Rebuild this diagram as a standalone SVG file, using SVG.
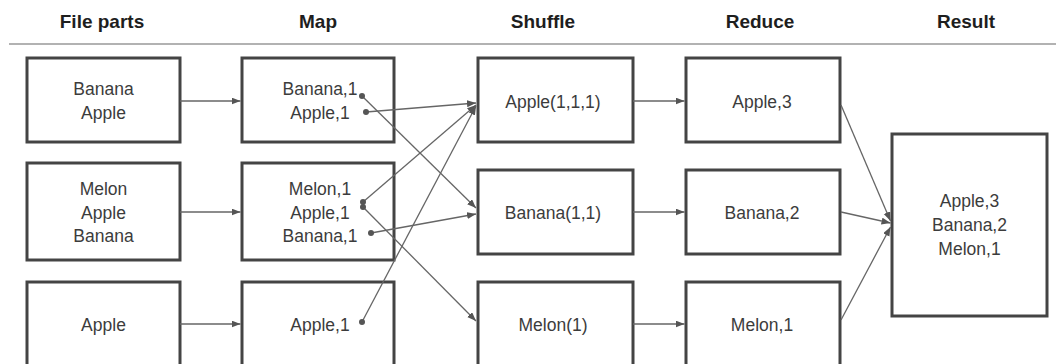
<svg xmlns="http://www.w3.org/2000/svg" width="1056" height="364" viewBox="0 0 1056 364">
  <style>
    .hdr { font-family: "Liberation Sans", Arial, sans-serif; font-weight: bold; font-size: 19px; fill: #1e1e1e; text-anchor: middle; }
    .box { fill: #ffffff; stroke: #444444; stroke-width: 3; }
    .lbl { font-family: "Liberation Sans", Arial, sans-serif; font-size: 17.5px; fill: #3c3c3c; text-anchor: middle; }
    .link { fill: none; stroke: #666666; stroke-width: 1.3; marker-end: url(#arrow); }
    .dot { fill: #555555; }
  </style>
  <defs>
    <marker id="arrow" markerUnits="userSpaceOnUse" markerWidth="10" markerHeight="8" refX="9" refY="3.5" orient="auto">
      <path d="M0,0 L9,3.5 L0,7 z" fill="#555555"/>
    </marker>
  </defs>

  <rect width="1056" height="364" fill="#ffffff"/>

  <!-- column headings -->
  <g id="headers">
    <text class="hdr" x="102" y="28">File parts</text>
    <text class="hdr" x="318" y="28">Map</text>
    <text class="hdr" x="543" y="28">Shuffle</text>
    <text class="hdr" x="760" y="28">Reduce</text>
    <text class="hdr" x="966" y="28">Result</text>
    <line x1="9" y1="44" x2="1056" y2="44" stroke="#999999" stroke-width="1.5"/>
  </g>

  <!-- input file parts -->
  <g id="file1">
    <rect class="box" x="27" y="58" width="153" height="84"/>
    <text class="lbl" x="103.5" y="95">Banana</text>
    <text class="lbl" x="103.5" y="119">Apple</text>
  </g>
  <g id="file2">
    <rect class="box" x="27" y="163" width="153" height="97"/>
    <text class="lbl" x="103.5" y="195">Melon</text>
    <text class="lbl" x="103.5" y="218.5">Apple</text>
    <text class="lbl" x="103.5" y="242">Banana</text>
  </g>
  <g id="file3">
    <rect class="box" x="27" y="282" width="153" height="84"/>
    <text class="lbl" x="103.5" y="331">Apple</text>
  </g>

  <!-- map outputs -->
  <g id="map1">
    <rect class="box" x="242" y="58" width="152" height="84"/>
    <text class="lbl" x="320" y="95">Banana,1</text>
    <text class="lbl" x="320" y="119">Apple,1</text>
  </g>
  <g id="map2">
    <rect class="box" x="242" y="163" width="152" height="97"/>
    <text class="lbl" x="320" y="195">Melon,1</text>
    <text class="lbl" x="320" y="218.5">Apple,1</text>
    <text class="lbl" x="320" y="242">Banana,1</text>
  </g>
  <g id="map3">
    <rect class="box" x="242" y="282" width="152" height="84"/>
    <text class="lbl" x="320" y="331">Apple,1</text>
  </g>

  <!-- shuffled groups -->
  <g id="shuffle1">
    <rect class="box" x="478" y="58" width="155" height="84"/>
    <text class="lbl" x="553" y="108">Apple(1,1,1)</text>
  </g>
  <g id="shuffle2">
    <rect class="box" x="478" y="170" width="155" height="84"/>
    <text class="lbl" x="553" y="219">Banana(1,1)</text>
  </g>
  <g id="shuffle3">
    <rect class="box" x="478" y="282" width="155" height="84"/>
    <text class="lbl" x="553" y="331">Melon(1)</text>
  </g>

  <!-- reduced counts -->
  <g id="reduce1">
    <rect class="box" x="686" y="58" width="154" height="84"/>
    <text class="lbl" x="762" y="108">Apple,3</text>
  </g>
  <g id="reduce2">
    <rect class="box" x="686" y="170" width="154" height="84"/>
    <text class="lbl" x="762" y="219">Banana,2</text>
  </g>
  <g id="reduce3">
    <rect class="box" x="686" y="282" width="154" height="84"/>
    <text class="lbl" x="762" y="331">Melon,1</text>
  </g>

  <!-- final result -->
  <g id="result">
    <rect class="box" x="892" y="134" width="155" height="182"/>
    <text class="lbl" x="969.5" y="207">Apple,3</text>
    <text class="lbl" x="969.5" y="231">Banana,2</text>
    <text class="lbl" x="969.5" y="255">Melon,1</text>
  </g>

  <g id="connectors">
    <!-- file parts to map -->
    <line class="link" x1="180" y1="101" x2="240.5" y2="101"/>
    <line class="link" x1="180" y1="212" x2="240.5" y2="212"/>
    <line class="link" x1="180" y1="324" x2="240.5" y2="324"/>

    <!-- map pairs to shuffle groups -->
    <line class="link" x1="362" y1="96" x2="476" y2="208"/>
    <line class="link" x1="366" y1="112" x2="476" y2="103"/>
    <line class="link" x1="363" y1="202" x2="476" y2="105"/>
    <line class="link" x1="363" y1="207" x2="476" y2="321"/>
    <line class="link" x1="371" y1="233" x2="476" y2="214"/>
    <line class="link" x1="362" y1="322" x2="476" y2="106"/>
    <circle class="dot" cx="362" cy="96" r="3"/>
    <circle class="dot" cx="366" cy="112" r="3"/>
    <circle class="dot" cx="363" cy="202" r="3"/>
    <circle class="dot" cx="363" cy="207" r="3"/>
    <circle class="dot" cx="371" cy="233" r="3"/>
    <circle class="dot" cx="362" cy="322" r="3"/>

    <!-- shuffle to reduce -->
    <line class="link" x1="633" y1="101" x2="684.5" y2="101"/>
    <line class="link" x1="633" y1="212" x2="684.5" y2="212"/>
    <line class="link" x1="633" y1="324" x2="684.5" y2="324"/>

    <!-- reduce to result -->
    <line class="link" x1="841" y1="105" x2="890.5" y2="221"/>
    <line class="link" x1="841" y1="212" x2="890.5" y2="223"/>
    <line class="link" x1="841" y1="320" x2="890.5" y2="227"/>
  </g>
</svg>
